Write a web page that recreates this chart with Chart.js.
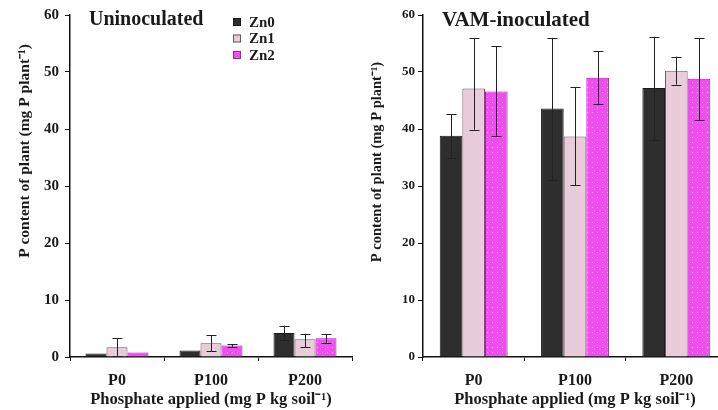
<!DOCTYPE html>
<html><head><meta charset="utf-8">
<script src="https://cdn.jsdelivr.net/npm/chart.js@4.4.1/dist/chart.umd.min.js"></script>
<style>
html,body{margin:0;padding:0;width:718px;height:410px;overflow:hidden;background:#fff}
#a{position:absolute;left:0;top:0;width:360px;height:410px}
#b{position:absolute;left:360px;top:0;width:372px;height:410px}
</style></head>
<body>
<div id="a"><canvas id="c1" width="360" height="410"></canvas></div>
<div id="b"><canvas id="c2" width="372" height="410"></canvas></div>
<script>
// ---- data ----
const categories = ['P0', 'P100', 'P200'];
const seriesNames = ['Zn0', 'Zn1', 'Zn2'];
const yTicks = [0, 10, 20, 30, 40, 50, 60];

// Uninoculated
const unZn0 = [0.6, 1.15, 4.2];
const unZn0Lo = [0.6, 1.15, 2.9];
const unZn0Hi = [0.6, 1.15, 5.5];
const unZn1 = [1.7, 2.4, 3.1];
const unZn1Lo = [0.2, 1.0, 1.7];
const unZn1Hi = [3.3, 3.8, 4.1];
const unZn2 = [0.8, 2.0, 3.3];
const unZn2Lo = [0.8, 1.8, 2.5];
const unZn2Hi = [0.8, 2.2, 4.0];

// VAM-inoculated
const vamZn0 = [38.8, 43.6, 47.2];
const vamZn0Lo = [34.9, 31.1, 38.0];
const vamZn0Hi = [42.6, 56.0, 56.2];
const vamZn1 = [47.1, 38.7, 50.2];
const vamZn1Lo = [39.9, 30.1, 47.8];
const vamZn1Hi = [55.9, 47.3, 52.7];
const vamZn2 = [46.6, 49.0, 48.8];
const vamZn2Lo = [38.8, 44.3, 41.5];
const vamZn2Hi = [54.5, 53.6, 55.9];

const yTitle = 'P content of plant (mg P plant\u207B\u00B9)';
const xTitle = 'Phosphate applied (mg P kg soil\u207B\u00B9)';

// ---- styles ----
const SERIF = "'Liberation Serif','Times New Roman',serif";
function dotPattern() {
  const c = document.createElement('canvas');
  c.width = 5; c.height = 5;
  const g = c.getContext('2d');
  g.fillStyle = '#f04ef0'; g.fillRect(0, 0, 5, 5);
  g.fillStyle = '#f7a6f7'; g.fillRect(2, 2, 1, 1);
  return g.createPattern(c, 'repeat');
}
const fills = ['#2e2e2e', '#e8ccda', dotPattern()];
const borders = ['#1a1a1a', '#6a5a62', '#a020a0'];

function makeDatasets(vals, los, his) {
  return vals.map((v, i) => ({
    label: seriesNames[i], data: v, lo: los[i], hi: his[i],
    backgroundColor: fills[i], borderColor: borders[i], borderWidth: 1,
    categoryPercentage: 0.67, barPercentage: 1.0
  }));
}

const errorBars = {
  id: 'errorBars',
  afterDatasetsDraw(chart) {
    const ctx = chart.ctx, ys = chart.scales.y;
    ctx.save();
    ctx.strokeStyle = '#222'; ctx.lineWidth = 1;
    chart.data.datasets.forEach((ds, di) => {
      chart.getDatasetMeta(di).data.forEach((bar, j) => {
        const lo = ds.lo[j], hi = ds.hi[j];
        if (hi - lo < 0.05) return;
        const yl = ys.getPixelForValue(lo), yh = ys.getPixelForValue(hi);
        const x = Math.round(bar.x) + 0.5, w = 5;
        ctx.beginPath();
        ctx.moveTo(x, yl); ctx.lineTo(x, yh);
        ctx.moveTo(x - w, Math.round(yh) + 0.5); ctx.lineTo(x + w, Math.round(yh) + 0.5);
        ctx.moveTo(x - w, Math.round(yl) + 0.5); ctx.lineTo(x + w, Math.round(yl) + 0.5);
        ctx.stroke();
      });
    });
    ctx.restore();
  }
};

const decorations = {
  id: 'decorations',
  afterDraw(chart, args, o) {
    const ctx = chart.ctx;
    ctx.save();
    ctx.fillStyle = '#1a1a1a';
    // panel title
    ctx.font = 'bold ' + o.titleSize + 'px ' + SERIF;
    ctx.textAlign = 'left'; ctx.textBaseline = 'middle';
    ctx.fillText(o.title, o.titleX, o.titleY);
    // y title
    ctx.font = 'bold ' + o.yTitleSize + 'px ' + SERIF;
    ctx.translate(o.yTitleX, o.yTitleY);
    ctx.rotate(-Math.PI / 2);
    ctx.textAlign = 'center';
    ctx.fillText(yTitle, 0, 0);
    ctx.restore();
    if (o.legend) {
      ctx.save();
      ctx.font = 'bold 15px ' + SERIF;
      ctx.textBaseline = 'middle'; ctx.textAlign = 'left';
      chart.data.datasets.forEach((ds, i) => {
        const y = o.legendY + i * 16.5;
        ctx.fillStyle = ds.backgroundColor;
        ctx.fillRect(o.legendX, y - 4, 8, 8);
        ctx.strokeStyle = ds.borderColor; ctx.lineWidth = 1;
        ctx.strokeRect(o.legendX + 0.5, y - 3.5, 7, 7);
        ctx.fillStyle = '#1a1a1a';
        ctx.fillText(ds.label, o.legendX + 16, y + 1);
      });
      ctx.restore();
    }
  }
};

function makeChart(id, datasets, opt) {
  return new Chart(document.getElementById(id), {
    type: 'bar',
    data: { labels: categories, datasets },
    plugins: [errorBars, decorations],
    options: {
      responsive: false, animation: false,
      layout: { padding: { top: 15, right: opt.padRight, left: 0, bottom: 0 } },
      plugins: {
        legend: { display: false }, tooltip: { enabled: false },
        decorations: opt.deco
      },
      scales: {
        x: {
          grid: { drawOnChartArea: false, drawTicks: true, tickLength: 4, color: '#111', offset: true },
          border: { display: true, color: '#111', width: 1.5 },
          ticks: { color: '#1a1a1a', font: { family: SERIF, weight: 'bold', size: 16 }, padding: 10, maxRotation: 0 },
          title: { display: true, text: xTitle, color: '#1a1a1a', font: { family: SERIF, weight: 'bold', size: 16.5 }, padding: { top: 0, bottom: 0 } },
          afterFit(s) { s.height = 53; }
        },
        y: {
          min: 0, max: 60,
          afterBuildTicks(s) { s.ticks = yTicks.map(v => ({ value: v })); },
          grid: { drawOnChartArea: false, drawTicks: true, tickLength: 5, color: '#111' },
          border: { display: true, color: '#111', width: 1.5 },
          ticks: { color: '#1a1a1a', font: { family: SERIF, weight: 'bold', size: opt.yTickSize }, padding: opt.yTickPad },
          afterFit(s) { s.width = opt.yWidth; }
        }
      }
    }
  });
}

makeChart('c1', makeDatasets([unZn0, unZn1, unZn2], [unZn0Lo, unZn1Lo, unZn2Lo], [unZn0Hi, unZn1Hi, unZn2Hi]), {
  padRight: 8, yWidth: 70, yTickSize: 15, yTickPad: 6,
  deco: { title: 'Uninoculated', titleSize: 20, titleX: 89, titleY: 20, yTitleSize: 15.5, yTitleX: 25, yTitleY: 151,
          legend: true, legendX: 233, legendY: 22 }
});
makeChart('c2', makeDatasets([vamZn0, vamZn1, vamZn2], [vamZn0Lo, vamZn1Lo, vamZn2Lo], [vamZn0Hi, vamZn1Hi, vamZn2Hi]), {
  padRight: 5, yWidth: 63, yTickSize: 13, yTickPad: 3,
  deco: { title: 'VAM-inoculated', titleSize: 21, titleX: 82, titleY: 21, yTitleSize: 14.5, yTitleX: 17, yTitleY: 162, legend: false }
});
</script>
</body></html>
